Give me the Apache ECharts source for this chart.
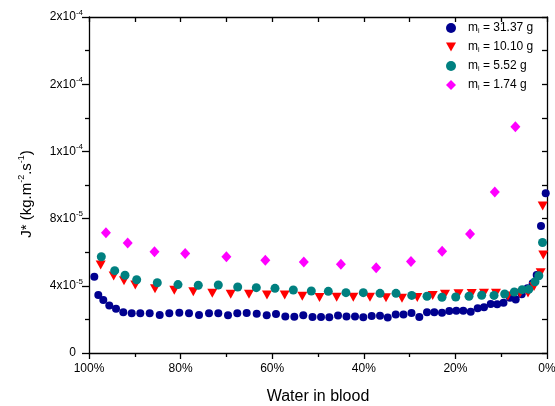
<!DOCTYPE html>
<html>
<head>
<meta charset="utf-8">
<script src="https://cdn.jsdelivr.net/npm/echarts@6/dist/echarts.min.js"></script>
<style>
html,body{margin:0;padding:0;background:#fff;}
#chart{width:555px;height:406px;}
</style>
</head>
<body>
<div id="chart"></div>
<script>
// Water in blood (%), J* in units of 1e-5 kg.m^-2.s^-1
const seriesNames = ['m_i = 31.37 g', 'm_i = 10.10 g', 'm_i = 5.52 g', 'm_i = 1.74 g'];
const xTickLabels = ['0%', '20%', '40%', '60%', '80%', '100%'];
const yTickLabels = ['0', '4x10^-5', '8x10^-5', '1x10^-4', '2x10^-4', '2x10^-4'];

const blueX = [98.84,97.97,96.88,95.57,94.10,92.51,90.68,88.80,86.75,84.56,82.47,80.28,78.17,75.98,73.80,71.77,69.65,67.62,65.57,63.38,61.20,59.17,57.14,55.17,53.21,51.20,49.34,47.53,45.63,43.78,41.92,40.11,38.28,36.46,34.78,33.03,31.33,29.59,27.88,26.20,24.61,22.93,21.33,19.80,18.28,16.66,15.13,13.76,12.29,10.87,9.50,8.08,6.83,5.52,4.26,3.12,2.25,1.31,0.28];
const blueY = [4.54,3.45,3.15,2.82,2.64,2.42,2.36,2.36,2.36,2.26,2.36,2.40,2.36,2.26,2.36,2.36,2.24,2.36,2.38,2.34,2.24,2.32,2.18,2.16,2.24,2.14,2.14,2.13,2.23,2.18,2.18,2.13,2.20,2.21,2.11,2.29,2.29,2.38,2.14,2.42,2.42,2.40,2.50,2.52,2.52,2.46,2.66,2.72,2.92,2.90,2.99,3.29,3.18,3.50,3.85,4.15,4.64,7.56,9.51];

const redX = [97.45,94.61,92.36,89.89,85.59,81.38,77.23,73.08,69.06,65.07,61.14,57.27,53.43,49.67,45.92,42.29,38.65,35.15,31.66,28.32,24.96,22.27,19.32,16.44,13.76,11.14,8.52,5.90,4.15,2.84,1.38,0.81,0.94];
const redY = [5.24,4.58,4.30,4.05,3.83,3.73,3.65,3.55,3.49,3.49,3.45,3.45,3.38,3.30,3.32,3.32,3.32,3.29,3.26,3.30,3.42,3.50,3.52,3.54,3.56,3.56,3.39,3.55,3.57,3.96,4.78,5.83,8.75];

const tealX = [97.31,94.39,92.14,89.59,85.09,80.57,76.14,71.77,67.53,63.47,59.39,55.39,51.46,47.75,43.89,40.11,36.46,32.97,29.54,26.20,22.93,19.93,17.03,14.26,11.57,9.24,7.14,5.41,3.97,2.62,1.79,0.98];
const tealY = [5.73,4.90,4.63,4.36,4.18,4.07,4.03,4.05,3.93,3.89,3.85,3.75,3.69,3.67,3.59,3.59,3.55,3.55,3.43,3.38,3.32,3.33,3.38,3.44,3.43,3.51,3.63,3.77,3.79,4.24,4.60,6.58];

const magX = [96.3,91.55,85.7,79.0,70.0,61.5,53.1,45.0,37.3,29.7,22.9,16.8,11.4,6.9];
const magY = [7.16,6.55,6.03,5.93,5.73,5.52,5.42,5.28,5.08,5.44,6.06,7.09,9.59,13.47];

function zip(xs, ys) { return xs.map((x, i) => [x, ys[i]]); }

const chart = echarts.init(document.getElementById('chart'), null, {renderer: 'canvas'});
const FONT = 'Liberation Sans, Arial, sans-serif';
const lineStyle = {color: '#000', width: 1.3};
const downTri = 'path://M0,0 L10,0 L5,9 Z';

function yLabel(v) {
  const idx = Math.round(v / 4);
  const s = yTickLabels[idx];
  if (s === undefined) return '';
  const parts = s.split('^');
  if (parts.length === 1) return '{n|' + parts[0] + '}{h|-5}';
  return '{n|' + parts[0] + '}{s|' + parts[1] + '}';
}
function xLabel(v) {
  const idx = Math.round(v / 20);
  return xTickLabels[idx] || '';
}

const common = {type: 'value', splitLine: {show: false}};

const option = {
  animation: false,
  backgroundColor: '#fff',
  textStyle: {fontFamily: FONT},
  grid: {left: 89, right: 8, top: 17, bottom: 53, containLabel: false, outerBoundsMode: 'none'},
  xAxis: [
    Object.assign({}, common, {
      min: 0, max: 100, interval: 20, inverse: true, position: 'bottom',
      axisLine: {onZero: false, lineStyle: lineStyle},
      axisTick: {inside: false, length: 6, lineStyle: lineStyle},
      minorTick: {show: true, splitNumber: 2, length: 4, lineStyle: lineStyle},
      axisLabel: {formatter: xLabel, fontSize: 12, color: '#000', margin: 10, fontFamily: FONT},
      name: 'Water in blood', nameLocation: 'middle', nameGap: 36,
      nameTextStyle: {fontSize: 16, color: '#000', fontFamily: FONT}
    }),
    Object.assign({}, common, {
      min: 0, max: 100, interval: 20, inverse: true, position: 'top',
      axisLine: {onZero: false, lineStyle: lineStyle},
      axisTick: {inside: true, length: 5, lineStyle: lineStyle},
      minorTick: {show: true, splitNumber: 2, length: 5, lineStyle: lineStyle},
      axisLabel: {show: false}
    })
  ],
  yAxis: [
    Object.assign({}, common, {
      min: 0, max: 20, interval: 4, position: 'left',
      axisLine: {onZero: false, lineStyle: lineStyle},
      axisTick: {inside: false, length: 7, lineStyle: lineStyle},
      minorTick: {show: true, splitNumber: 2, length: 4, lineStyle: lineStyle},
      axisLabel: {
        formatter: yLabel, color: '#000', margin: 6, fontFamily: FONT,
        rich: {
          n: {fontSize: 12, lineHeight: 17, color: '#000', fontFamily: FONT},
          s: {fontSize: 8, lineHeight: 9, verticalAlign: 'top', color: '#000', fontFamily: FONT},
          h: {fontSize: 8, lineHeight: 9, verticalAlign: 'top', color: 'rgba(0,0,0,0)', fontFamily: FONT}
        }
      },
      name: '{t|J* (kg.m}{s|-2}{t|.s}{s|-1}{t|)}', nameLocation: 'middle', nameGap: 52, nameRotate: 90,
      nameTextStyle: {
        color: '#000', fontFamily: FONT, padding: [0, 18, 0, 0],
        rich: {
          t: {fontSize: 15, lineHeight: 20, color: '#000', fontFamily: FONT},
          s: {fontSize: 9, lineHeight: 10, verticalAlign: 'top', color: '#000', fontFamily: FONT}
        }
      }
    }),
    Object.assign({}, common, {
      min: 0, max: 20, interval: 4, position: 'right',
      axisLine: {onZero: false, lineStyle: lineStyle},
      axisTick: {inside: true, length: 5, lineStyle: lineStyle},
      minorTick: {show: true, splitNumber: 2, length: 5, lineStyle: lineStyle},
      axisLabel: {show: false}
    })
  ],
  legend: {
    orient: 'vertical', left: 446, top: 21, padding: 0,
    itemWidth: 10, itemHeight: 10, itemGap: 5,
    data: [
      {name: seriesNames[0], icon: 'circle'},
      {name: seriesNames[1], icon: downTri},
      {name: seriesNames[2], icon: 'circle'},
      {name: seriesNames[3], icon: 'diamond'}
    ],
    formatter: function (name) { return name.replace('_i', '{sub|i}'); },
    textStyle: {
      fontSize: 12, color: '#000', fontFamily: FONT, lineHeight: 14, padding: [0, 0, 0, 7],
      rich: {sub: {fontSize: 7, lineHeight: 14, verticalAlign: 'bottom', color: '#000', fontFamily: FONT}}
    }
  },
  series: [
    {name: seriesNames[0], type: 'scatter', symbol: 'circle', symbolSize: 8,
     itemStyle: {color: '#00008f', opacity: 1}, data: zip(blueX, blueY)},
    {name: seriesNames[1], type: 'scatter', symbol: 'triangle', symbolRotate: 180, symbolSize: [10, 9],
     itemStyle: {color: '#ff0000', opacity: 1}, data: zip(redX, redY)},
    {name: seriesNames[2], type: 'scatter', symbol: 'circle', symbolSize: 9,
     itemStyle: {color: '#008080', opacity: 1}, data: zip(tealX, tealY)},
    {name: seriesNames[3], type: 'scatter', symbol: 'diamond', symbolSize: [10, 11],
     itemStyle: {color: '#ff00ff', opacity: 1}, data: zip(magX, magY)}
  ]
};
chart.setOption(option);
</script>
</body>
</html>
